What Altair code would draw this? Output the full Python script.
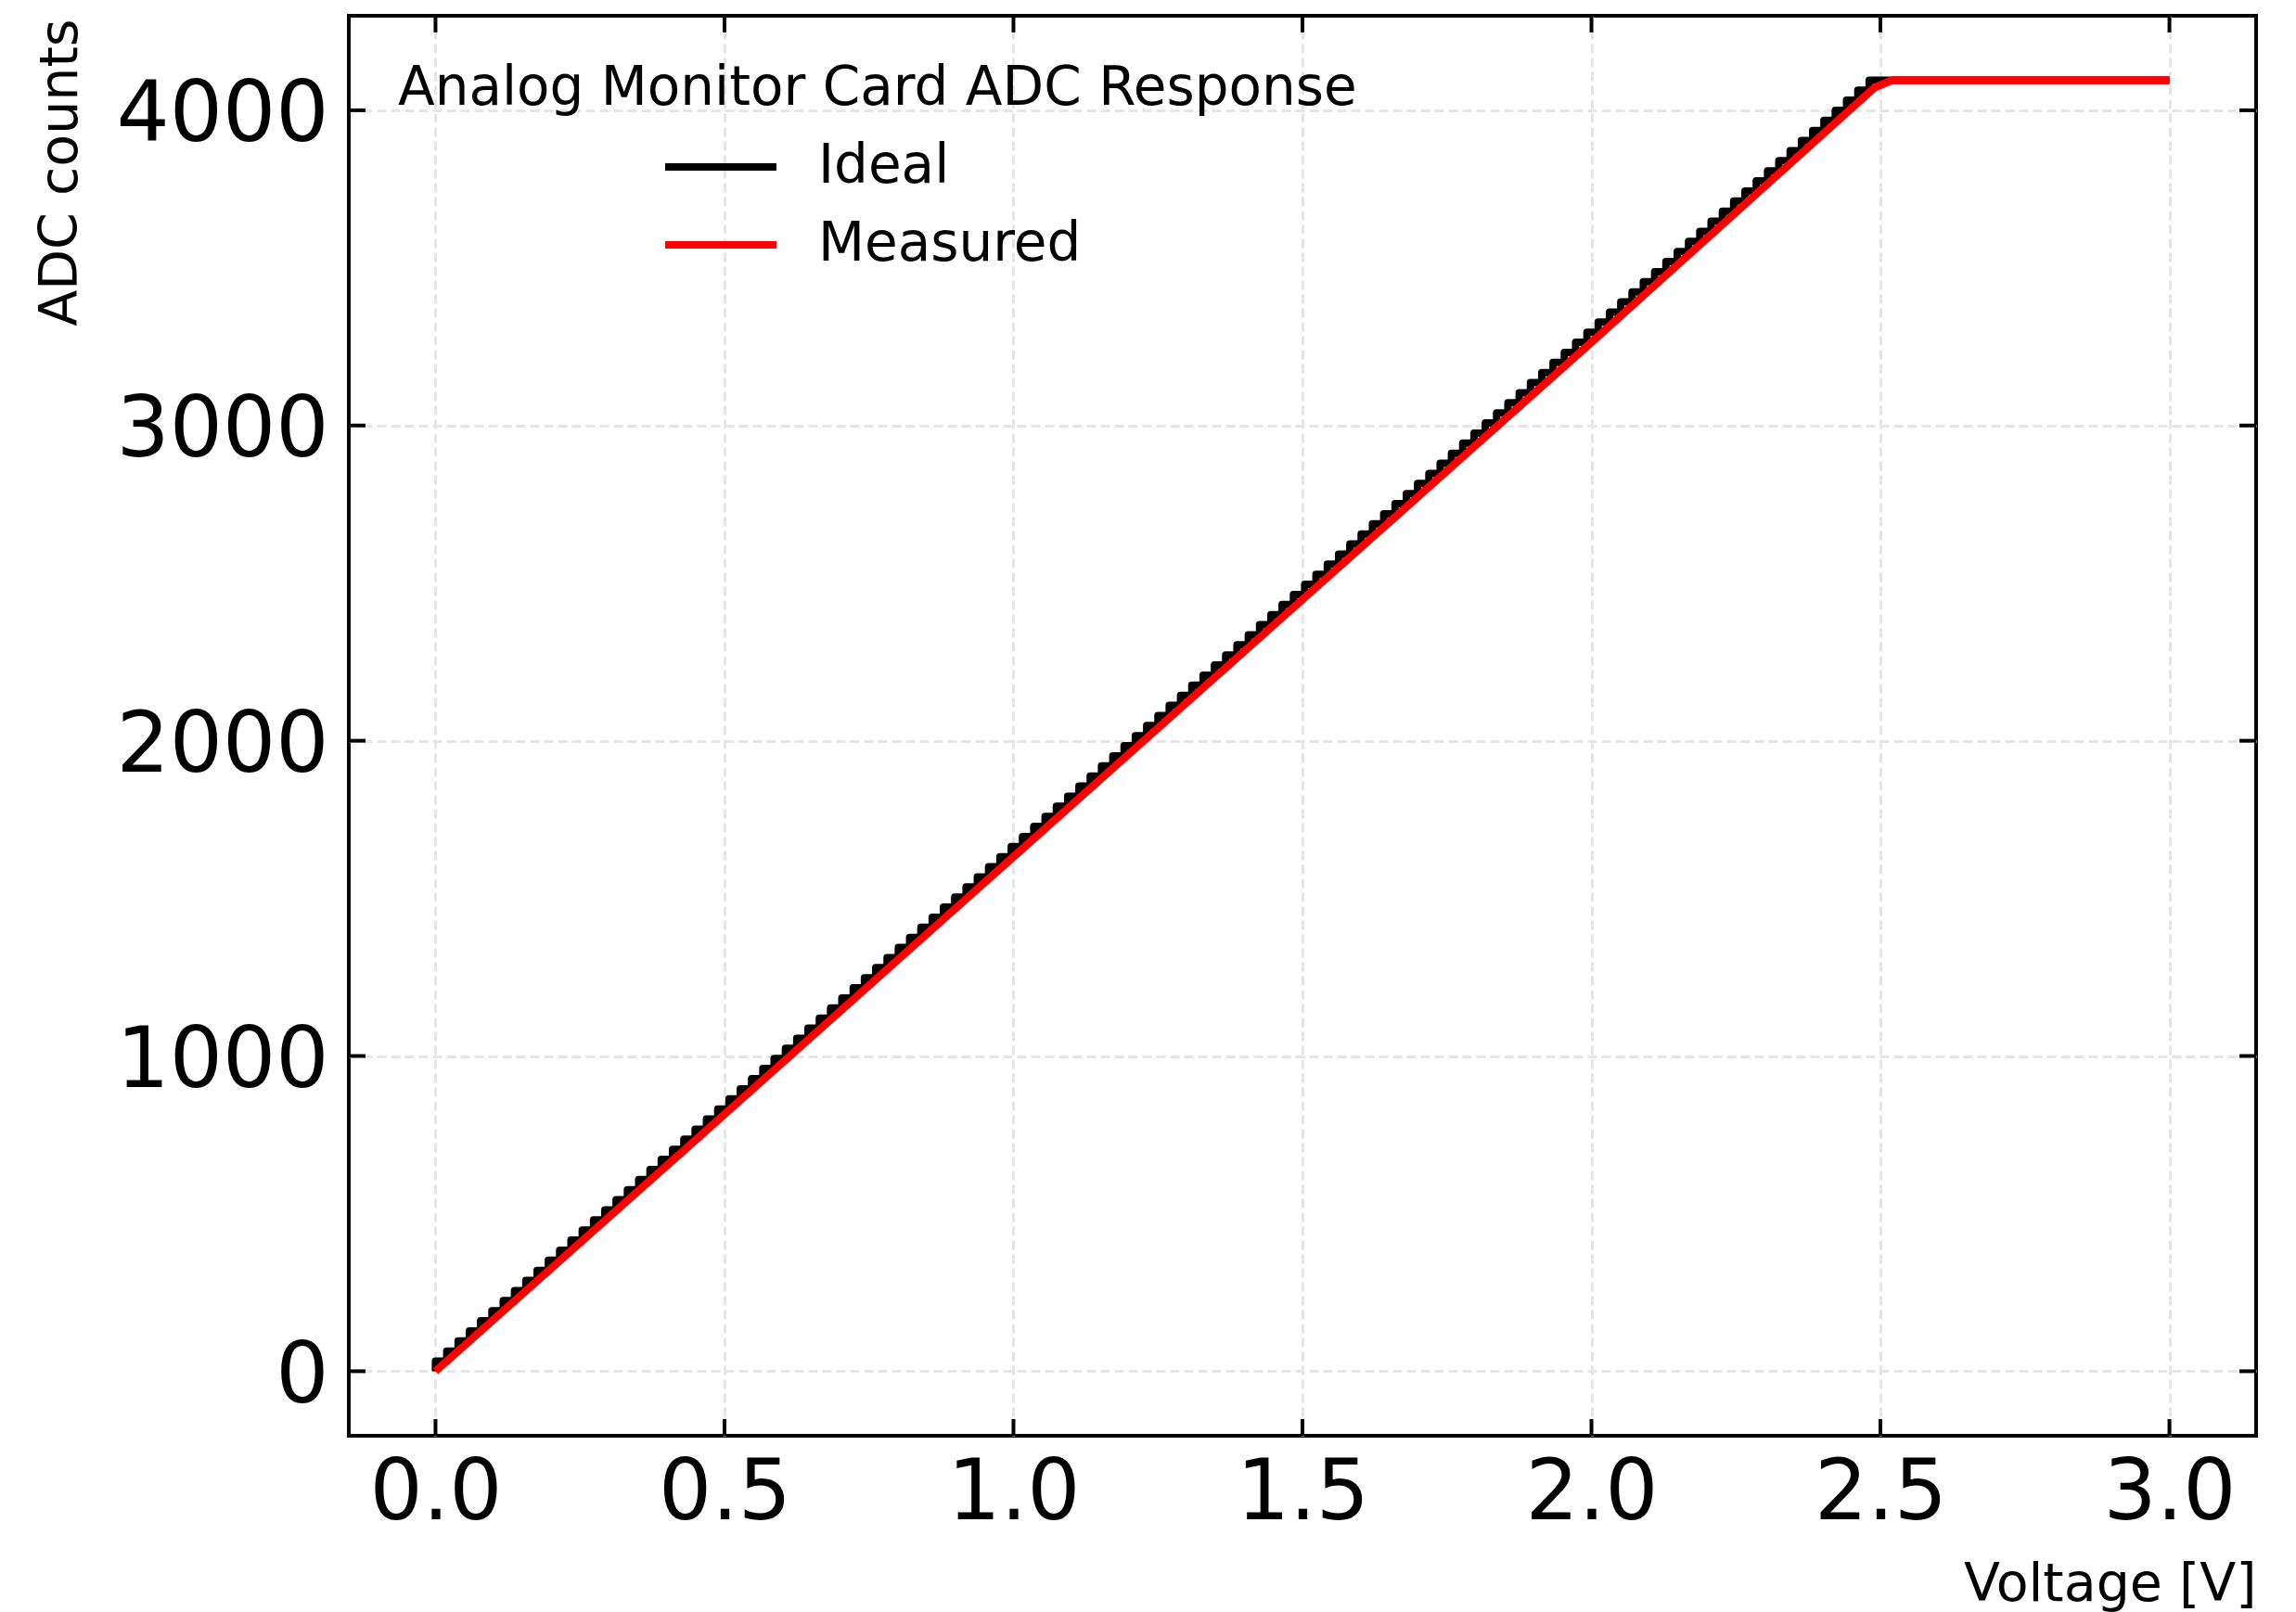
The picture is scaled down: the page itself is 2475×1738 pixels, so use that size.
import altair as alt
import pandas as pd

# ---- data ----
ideal_volts = [
    0.0, 0.0195, 0.0391, 0.0586, 0.0781, 0.0977, 0.1172, 0.1367, 0.1563, 0.1758,
    0.1953, 0.2148, 0.2344, 0.2539, 0.2734, 0.2930, 0.3125, 0.3320, 0.3516, 0.3711,
    0.3906, 0.4102, 0.4297, 0.4492, 0.4688, 0.4883, 0.5078, 0.5273, 0.5469, 0.5664,
    0.5859, 0.6055, 0.6250, 0.6445, 0.6641, 0.6836, 0.7031, 0.7227, 0.7422, 0.7617,
    0.7813, 0.8008, 0.8203, 0.8398, 0.8594, 0.8789, 0.8984, 0.9180, 0.9375, 0.9570,
    0.9766, 0.9961, 1.0156, 1.0352, 1.0547, 1.0742, 1.0938, 1.1133, 1.1328, 1.1523,
    1.1719, 1.1914, 1.2109, 1.2305, 1.2500, 1.2695, 1.2891, 1.3086, 1.3281, 1.3477,
    1.3672, 1.3867, 1.4063, 1.4258, 1.4453, 1.4648, 1.4844, 1.5039, 1.5234, 1.5430,
    1.5625, 1.5820, 1.6016, 1.6211, 1.6406, 1.6602, 1.6797, 1.6992, 1.7188, 1.7383,
    1.7578, 1.7773, 1.7969, 1.8164, 1.8359, 1.8555, 1.8750, 1.8945, 1.9141, 1.9336,
    1.9531, 1.9727, 1.9922, 2.0117, 2.0313, 2.0508, 2.0703, 2.0898, 2.1094, 2.1289,
    2.1484, 2.1680, 2.1875, 2.2070, 2.2266, 2.2461, 2.2656, 2.2852, 2.3047, 2.3242,
    2.3438, 2.3633, 2.3828, 2.4023, 2.4219, 2.4414, 2.4609, 2.4805, 2.5000, 3.0000,
]
ideal_counts = [
    0, 32, 64, 96, 128, 160, 192, 224, 256, 288,
    320, 352, 384, 416, 448, 480, 512, 544, 576, 608,
    640, 672, 704, 736, 768, 800, 832, 864, 896, 928,
    960, 992, 1024, 1056, 1088, 1120, 1152, 1184, 1216, 1248,
    1280, 1312, 1344, 1376, 1408, 1440, 1472, 1504, 1536, 1568,
    1600, 1632, 1664, 1696, 1728, 1760, 1792, 1824, 1856, 1888,
    1920, 1952, 1984, 2016, 2048, 2080, 2112, 2144, 2176, 2208,
    2240, 2272, 2304, 2336, 2368, 2400, 2432, 2464, 2496, 2528,
    2560, 2592, 2624, 2656, 2688, 2720, 2752, 2784, 2816, 2848,
    2880, 2912, 2944, 2976, 3008, 3040, 3072, 3104, 3136, 3168,
    3200, 3232, 3264, 3296, 3328, 3360, 3392, 3424, 3456, 3488,
    3520, 3552, 3584, 3616, 3648, 3680, 3712, 3744, 3776, 3808,
    3840, 3872, 3904, 3936, 3968, 4000, 4032, 4064, 4095, 4095,
]
meas_volts = [0.0, 0.5, 1.0, 1.5, 2.0, 2.49, 2.52, 3.0]
meas_counts = [0, 815, 1632, 2448, 3264, 4072, 4095, 4095]

series_names = ["Ideal", "Measured"]
series_colors = ["#000000", "#ff0000"]
x_ticks = [0.0, 0.5, 1.0, 1.5, 2.0, 2.5, 3.0]
y_ticks = [0, 1000, 2000, 3000, 4000]

legend_title = "Analog Monitor Card ADC Response"
x_title = "Voltage [V]"
y_title = "ADC counts"

# ---- layout ----
W, H = 2056, 1531
FONT = "DejaVu Sans"
TICK_LEN = 18

ideal_df = pd.DataFrame({"volts": ideal_volts, "counts": ideal_counts, "series": "Ideal"})
meas_df = pd.DataFrame({"volts": meas_volts, "counts": meas_counts, "series": "Measured"})
xt_df = pd.DataFrame({"volts": x_ticks})
yt_df = pd.DataFrame({"counts": y_ticks})

xs = alt.Scale(domain=[-0.15, 3.15], nice=False, zero=False)
ys = alt.Scale(domain=[-204.75, 4299.75], nice=False, zero=False)

grid_kw = dict(grid=True, gridColor="#e6e6e6", gridWidth=3, gridDash=[10, 5],
               domain=False, ticks=False, labelFont=FONT, labelFontSize=90,
               labelColor="black", labelLimit=1000, titleFont=FONT, titleFontSize=57,
               titleFontWeight="normal", titleColor="black", titleLimit=2000)

xaxis = alt.Axis(values=x_ticks, format=".1f", labelPadding=18, title=x_title,
                 titleAlign="right", titleBaseline="alphabetic", titleX=W, titleY=177,
                 titleAnchor="end", **grid_kw)
yaxis = alt.Axis(values=y_ticks, format="d", labelPadding=22, labelOffset=6, title=y_title,
                 titleAngle=270, titleAlign="right", titleBaseline="middle",
                 titleX=-311, titleY=3, titleAnchor="end", **grid_kw)

color = alt.Color(
    "series:N",
    scale=alt.Scale(domain=series_names, range=series_colors),
    legend=alt.Legend(
        title=legend_title, orient="none", legendX=53, legendY=50, padding=0,
        titleFont=FONT, titleFontSize=58, titleFontWeight="normal", titleColor="black",
        titleAnchor="start", titlePadding=21, titleLimit=3000,
        symbolType="M-2,0H2", symbolSize=3600, symbolStrokeWidth=8, symbolOffset=314,
        labelFont=FONT, labelFontSize=58, labelColor="black", labelOffset=71,
        labelLimit=2000, rowPadding=21,
    ),
)

ideal = alt.Chart(ideal_df).mark_line(
    interpolate="step-before", strokeWidth=8, strokeJoin="round"
).encode(
    x=alt.X("volts:Q", scale=xs, axis=xaxis),
    y=alt.Y("counts:Q", scale=ys, axis=yaxis),
    color=color,
)

measured = alt.Chart(meas_df).mark_line(strokeWidth=8.5, strokeJoin="round").encode(
    x=alt.X("volts:Q", scale=xs, axis=xaxis),
    y=alt.Y("counts:Q", scale=ys, axis=yaxis),
    color=color,
)

tick_style = dict(color="black", strokeWidth=4)
bottom_ticks = alt.Chart(xt_df).mark_rule(**tick_style).encode(
    x=alt.X("volts:Q", scale=xs, axis=xaxis), y=alt.value(H), y2=alt.value(H - TICK_LEN))
top_ticks = alt.Chart(xt_df).mark_rule(**tick_style).encode(
    x=alt.X("volts:Q", scale=xs, axis=xaxis), y=alt.value(0), y2=alt.value(TICK_LEN))
left_ticks = alt.Chart(yt_df).mark_rule(**tick_style).encode(
    y=alt.Y("counts:Q", scale=ys, axis=yaxis), x=alt.value(0), x2=alt.value(TICK_LEN))
right_ticks = alt.Chart(yt_df).mark_rule(**tick_style).encode(
    y=alt.Y("counts:Q", scale=ys, axis=yaxis), x=alt.value(W), x2=alt.value(W - TICK_LEN))

chart = alt.layer(
    ideal, measured, bottom_ticks, top_ticks, left_ticks, right_ticks
).properties(
    width=W, height=H,
    autosize=alt.AutoSizeParams(type="none"),
    padding={"left": 376, "top": 17, "right": 43, "bottom": 190},
    background="white",
).configure_view(
    stroke="black", strokeWidth=4
)

chart.save("out.html", embed_options={"renderer": "svg", "actions": False})
